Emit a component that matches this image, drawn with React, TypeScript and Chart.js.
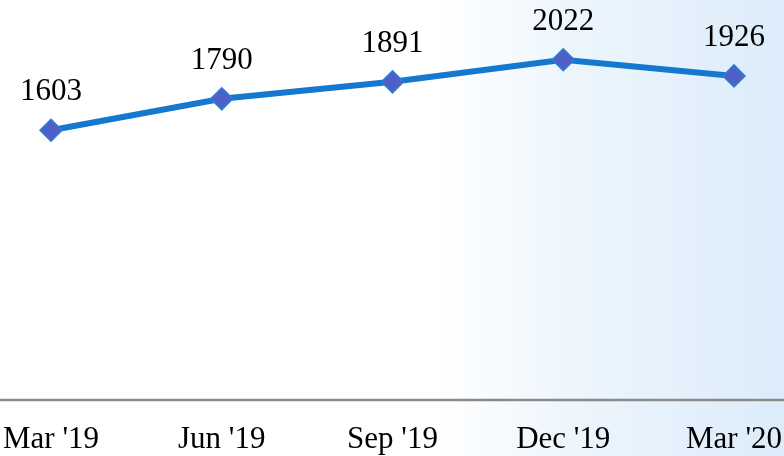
import React, { useEffect, useRef } from "react";
import { Chart, registerables } from "chart.js";

Chart.register(...registerables);

const categories = ["Mar '19", "Jun '19", "Sep '19", "Dec '19", "Mar '20"];
const values = [1603, 1790, 1891, 2022, 1926];

const SHIFT = 100;
const FONT = "'Liberation Serif', 'Times New Roman', serif";

const labelPlugin = {
  id: "valueLabels",
  afterDatasetsDraw(chart: any) {
    const ctx = chart.ctx;
    const meta = chart.getDatasetMeta(0);
    ctx.save();
    ctx.font = `31px ${FONT}`;
    ctx.fillStyle = "#000";
    ctx.textAlign = "center";
    ctx.textBaseline = "middle";
    meta.data.forEach((pt: any, i: number) => {
      ctx.fillText(String(values[i]), pt.x, pt.y - 38);
    });
    ctx.restore();
  },
};

const axisLinePlugin = {
  id: "axisLine",
  beforeDatasetsDraw(chart: any) {
    const ctx = chart.ctx;
    const y = chart.scales.y.getPixelForValue(0);
    ctx.save();
    ctx.strokeStyle = "#8a8a8a";
    ctx.lineWidth = 2.5;
    ctx.beginPath();
    ctx.moveTo(0, y);
    ctx.lineTo(chart.width, y);
    ctx.stroke();
    ctx.restore();
  },
};

export default function App() {
  const ref = useRef<HTMLCanvasElement>(null);
  useEffect(() => {
    if (!ref.current) return;
    const chart = new Chart(ref.current, {
      type: "line",
      data: {
        labels: categories,
        datasets: [
          {
            data: values,
            borderColor: "#1478cf",
            borderWidth: 6,
            pointStyle: "rectRot",
            pointRadius: 11,
            pointBackgroundColor: "#4f5fc8",
            pointBorderColor: "#2a7fd2",
            pointBorderWidth: 1.5,
            tension: 0,
            fill: false,
          },
        ],
      },
      options: {
        animation: false,
        responsive: false,
        maintainAspectRatio: false,
        layout: { padding: { left: 51 + SHIFT, right: 150, top: 0, bottom: 0 } },
        plugins: { legend: { display: false }, tooltip: { enabled: false } },
        scales: {
          x: {
            offset: false,
            grid: { display: false, drawTicks: false },
            border: { display: false },
            ticks: {
              color: "#000",
              font: { family: FONT, size: 31 },
              padding: 21,
              maxRotation: 0,
              autoSkip: false,
            },
            afterFit: (axis: any) => {
              axis.height = 56;
            },
          },
          y: {
            display: false,
            min: 0,
            max: 2303,
          },
        },
      },
      plugins: [labelPlugin, axisLinePlugin],
    });
    return () => chart.destroy();
  }, []);
  return (
    <div
      style={{
        position: "fixed",
        left: 0,
        top: 0,
        width: 784,
        height: 456,
        overflow: "hidden",
        background:
          "linear-gradient(to right, #ffffff 0%, #ffffff 56%, #eef6fd 72%, #dcecfa 100%)",
      }}
    >
      <canvas
        ref={ref}
        width={784 + SHIFT + 100}
        height={456}
        style={{ position: "absolute", left: -SHIFT, top: 0, width: 784 + SHIFT + 100, height: 456 }}
      />
    </div>
  );
}
